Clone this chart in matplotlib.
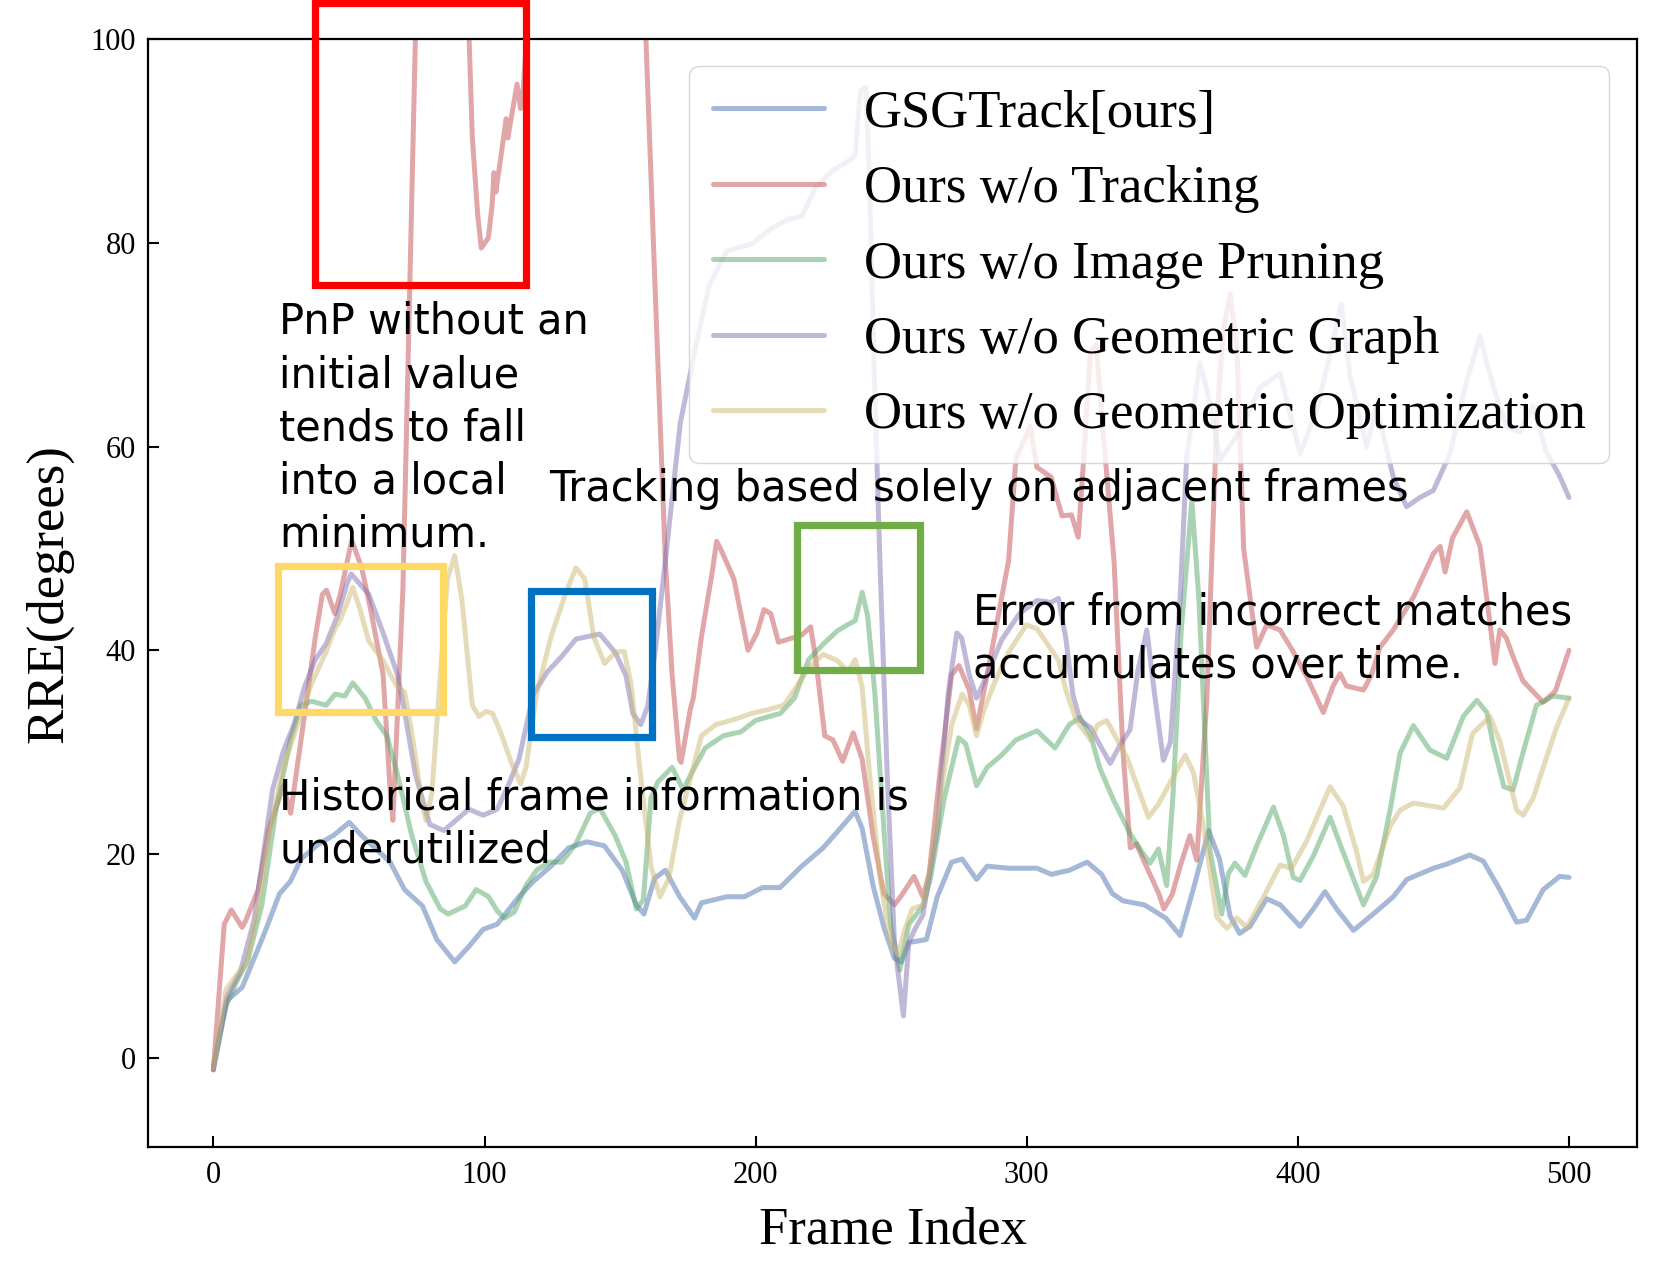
import matplotlib
matplotlib.use('Agg')
import matplotlib.pyplot as plt
import matplotlib.patches as mpatches

# ── data (frame index vs RRE) ──────────────────────────────────────
gsg_x = [0, 5, 10.6, 18.5, 24.4, 28.4, 32.3, 38.9, 44.2, 50.1, 54.7, 65.2, 70.5, 77.1, 82.4,
         89, 94.2, 99.5, 104.7, 112.7, 118, 124.5, 131, 137.7, 144.2, 150.8, 156, 158.8,
         162.7, 166.7, 172, 177.5, 180, 189.3, 195.9, 202.5, 209, 217, 224.9, 230.2, 236.7,
         239.3, 243.3, 247.3, 251.2, 253.8, 256.5, 263, 267, 272.3, 276.2, 281.5, 285.4,
         293.3, 303.8, 309.1, 315.7, 322.3, 327.6, 331.6, 335.5, 343.4, 351.3, 356.6, 361.8,
         367.1, 371.1, 375, 378.5, 382.4, 388.5, 393.5, 400.8, 405.7, 410, 414.3, 420.5,
         427.8, 435.2, 440.2, 450, 454.9, 463.4, 468.4, 474.5, 480.7, 484.4, 490.5, 496.6, 500]
gsg_y = [-1.2, 5.6, 6.9, 12.0, 16.1, 17.3, 19.5, 21.0, 21.8, 23.1, 21.8, 19.2, 16.5, 14.9, 11.6,
         9.4, 10.9, 12.6, 13.1, 15.8, 17.3, 18.8, 20.6, 21.2, 20.8, 18.4, 15.0, 14.1,
         17.6, 18.4, 15.8, 13.7, 15.2, 15.8, 15.8, 16.7, 16.7, 18.8, 20.6, 22.2, 24.2,
         22.5, 16.9, 12.8, 9.75, 9.4, 11.3, 11.6, 15.8, 19.2, 19.5, 17.5, 18.8,
         18.6, 18.6, 18.0, 18.4, 19.2, 18.0, 16.1, 15.4, 15.0, 13.7, 12.0, 16.9,
         22.3, 19.5, 13.9, 12.2, 12.9, 15.6, 15.0, 12.9, 14.6, 16.3, 14.6, 12.5,
         14.1, 15.8, 17.5, 18.6, 19.0, 19.9, 19.3, 16.5, 13.3, 13.5, 16.5, 17.8, 17.7]

notrack_x = [0, 4, 6.6, 10.6, 12, 16.5, 20.5, 25.8, 28.5, 33.7, 37.6, 40.2, 41.7, 44.8, 46.8,
             49.4, 51, 54.7, 58, 62.6, 65.2, 66.2, 69.9, 74.5, 76, 93, 94.2, 95.5, 97.5, 98.8,
             101.4, 102.8, 103.5, 104.2, 108, 108.6, 112, 113.3, 114, 116, 158, 159.4, 163,
             166.7, 169.2, 171.9, 172.5, 175.9, 177, 180, 184, 185.6, 187, 192, 197.2, 200.5,
             203.1, 205.6, 208.4, 211, 217, 220.3, 222.2, 225.5, 228.5, 232.1, 236, 239.3,
             243.3, 247.3, 251.2, 254, 258.4, 261.7, 264, 268, 272.3, 275, 278.8, 281.5, 286.7,
             293.3, 296, 301.3, 303.7, 309, 313, 316.5, 319, 321, 323.5, 325.6, 328, 332.2,
             335.5, 338.2, 340.5, 343.4, 348.7, 350.6, 353.6, 356.6, 360.2, 362.7, 366.4, 370,
             372.5, 375, 377.5, 380, 384.8, 388.5, 393.4, 398, 403.3, 409.4, 413, 415.6,
             417.9, 424.2, 427, 430.3, 435.2, 442.6, 450, 452.5, 454.3, 457, 462.3, 467.2,
             470.9, 472.7, 474.5, 476.9, 479.2, 483, 490.5, 495, 500]
notrack_y = [-1.2, 13.1, 14.5, 12.8, 13.5, 16.5, 22.5, 26.7, 24.0, 33.8, 41.3, 45.5, 45.9, 43.6, 45.5,
             48.8, 50.8, 48.1, 44.0, 37.6, 26.3, 23.3, 46.0, 100.0, 110, 110, 101.0, 90.4, 82.7, 79.5,
             80.5, 83.7, 86.9, 85.0, 92.2, 90.3, 95.6, 93.2, 94.0, 102, 110, 101.0, 75.0,
             48.8, 37.6, 29.3, 29.0, 34.2, 35.3, 41.3, 47.7, 50.7, 50.0, 47.0, 40.0, 41.7,
             44.0, 43.6, 40.8, 41.0, 41.5, 42.3, 39.1, 31.6, 31.2, 29.1, 31.9, 29.3,
             21.8, 16.1, 15.0, 16.0, 17.8, 15.8, 18.0, 28.0, 37.6, 38.5, 36.1, 32.3, 39.4,
             48.8, 58.8, 62.0, 58.0, 57.0, 53.2, 53.3, 51.1, 58.8, 69.3, 70.0, 62.0, 48.8,
             30.0, 20.6, 21.0, 19.2, 16.1, 14.6, 16.0, 18.8, 21.8, 19.4, 35.1, 62.0,
             71.5, 75.0, 70.0, 50.0, 40.3, 42.5, 42.0, 40.0, 37.4, 33.9, 36.5, 37.7,
             36.5, 36.1, 37.5, 40.3, 42.0, 45.2, 49.5, 50.2, 47.7, 51.0, 53.6, 50.2,
             42.6, 38.7, 42.0, 41.2, 39.5, 37.0, 34.9, 36.0, 40.0]

noprune_x = [0, 4.5, 8.6, 12.5, 17.9, 23.1, 28.4, 32.3, 36.2, 41.6, 44.9, 48.5, 51.4, 56, 60, 64,
             67.9, 73.2, 78.4, 83.7, 86.6, 92.9, 96.9, 101.5, 104.7, 107.4, 111, 115.3, 119.2,
             123.9, 128.5, 133.7, 139, 142.5, 148.2, 152.2, 156, 158.6, 161.4, 164, 169.2, 173.3,
             176.1, 181.4, 188, 194.6, 199.9, 205, 209.1, 214.3, 219.6, 224.9, 230.1, 233.8,
             236.7, 239.3, 241.3, 244, 247.3, 249.8, 253.2, 256.5, 261.7, 264.4, 269.6, 274.9,
             277.5, 281.5, 285.4, 290.7, 296, 303.8, 310.4, 315.7, 319.7, 323.6, 327, 332,
             338.1, 343, 345.5, 348.6, 351.6, 354, 357, 360.9, 363.5, 367.6, 371.9,
             374.4, 376.8, 380.5, 384.8, 391, 394.7, 398.3, 400.8, 405.7, 411.9, 415.5, 424.2, 429.1,
             434, 437.7, 442.6, 448.7, 454.9, 461, 466, 469.7, 472, 476, 479.4, 483.1, 488,
             494.2, 500]
noprune_y = [-0.8, 5.0, 7.5, 9.4, 15.0, 24.4, 31.2, 34.6, 35.0, 34.6, 35.7, 35.5, 36.8, 35.3, 33.1, 31.6,
             27.8, 21.8, 17.3, 14.6, 14.1, 14.9, 16.5, 15.8, 14.4, 13.7, 14.3, 16.9, 18.4,
             19.2, 19.2, 21.0, 24.0, 24.5, 21.8, 19.2, 14.6, 15.5, 25.5, 27.1, 28.5, 26.3,
             27.8, 30.4, 31.6, 32.0, 33.1, 33.5, 33.8, 35.3, 39.1, 40.6, 41.9, 42.5,
             42.9, 45.7, 43.4, 35.7, 22.5, 13.1, 8.6, 13.1, 14.9, 17.5, 25.5, 31.4,
             30.8, 26.7, 28.5, 29.7, 31.2, 32.1, 30.4, 32.7, 33.4, 31.6, 28.4, 25.3,
             22.0, 20.0, 19.1, 20.5, 16.9, 26.0, 42.0, 54.7, 45.0, 20.3, 14.1,
             18.1, 19.1, 17.9, 20.8, 24.6, 21.8, 17.7, 17.4, 19.8, 23.6, 21.0, 15.0, 17.8,
             24.3, 29.9, 32.6, 30.2, 29.4, 33.5, 35.1, 33.9, 30.8, 26.6, 26.3, 30.0, 34.6,
             35.5, 35.3]

nograph_x = [0, 5, 10, 15, 21.8, 25.8, 29.7, 33.6, 37.6, 41.5, 45.5, 49.4, 50.8, 57.3, 62.6, 67.9,
             70.5, 74.5, 79.8, 85, 89, 94.2, 99.5, 104.7, 108.7, 112.7, 118, 123.2, 128.5, 133.7,
             139, 142.5, 148.2, 152.2, 154.7, 157.6, 160.2, 163, 166.7, 172.2, 177.5, 182.7, 189.3,
             198.5, 205.1, 211.6, 216.9, 222.2, 228.8, 234, 236.7, 238.6, 240.6, 241.9, 243.9,
             245.9, 248.5, 251.2, 254.5, 256.5, 259.1, 261.7, 267, 271, 274.2, 276, 278.8, 281.5,
             285.4, 290.7, 297.3, 303.8, 309, 311.7, 314.4, 317, 319.7, 323.6, 327.6, 330.8,
             334, 338.1, 341, 344.3, 347, 350.4, 353, 356.6, 359, 363.9, 367, 371.3,
             378.7, 386, 393.4, 400.8, 407, 413.1, 416, 419.2, 425.4, 429, 435.2,
             440.1, 445, 450, 456.1, 462.3, 467.2, 472, 477, 481.9, 486.7, 491.6, 496.6, 500]
nograph_y = [-1.0, 6.0, 8.5, 13.5, 26.3, 30.1, 32.7, 36.4, 39.1, 40.6, 43.2, 46.6, 47.5, 45.5, 41.7, 37.6,
             34.0, 27.8, 22.9, 22.3, 23.2, 24.4, 23.8, 24.4, 26.7, 29.3, 35.7, 37.9, 39.4, 41.1,
             41.4, 41.6, 39.8, 37.5, 33.8, 32.7, 34.5, 40.0, 48.8, 62.3, 69.3, 75.7, 79.2,
             79.9, 81.3, 82.3, 82.6, 85.5, 87.2, 88.0, 88.6, 94.9, 95.3, 86.9, 65.8,
             48.3, 28.0, 11.3, 4.1, 11.3, 12.8, 14.0, 22.5, 35.7, 41.7, 41.2, 37.6, 35.3,
             37.6, 41.0, 43.6, 44.9, 44.7, 45.1, 41.2, 35.7, 33.1, 32.4, 30.4, 28.9,
             30.5, 32.2, 38.0, 42.0, 36.0, 29.2, 31.0, 45.2, 59.0, 68.2, 65.0, 58.7,
             61.6, 65.8, 67.2, 59.3, 63.6, 70.5, 74.0, 67.0, 60.0, 64.0, 57.0,
             54.1, 55.0, 55.7, 59.3, 66.5, 70.8, 66.0, 62.0, 61.4, 64.0, 59.5, 57.1, 55.0]

noopt_x = [0, 4.7, 8.6, 12.5, 16.5, 20.5, 25.8, 31, 36.3, 41.5, 44.8, 46.8, 49.4, 51.4, 54.1, 57.3,
           62.6, 65.3, 67.9, 70.5, 73.2, 77.1, 78.4, 80.6, 83.7, 86.3, 89, 91.6, 95.5, 98, 100.5,
           103, 106, 110, 113.3, 115.3, 119.2, 124.5, 129.8, 133.7, 137, 140.3, 144.3, 148.2,
           151.5, 154, 157.4, 161.4, 164.7, 168, 171.9, 175.9, 180, 185.3, 192, 198.5, 205,
           210.4, 214.3, 219.6, 224.9, 230.1, 234.1, 236.7, 239.3, 241.9, 245.9, 249.8, 252.5,
           255, 257.7, 261.7, 264.4, 268.3, 272.3, 276.2, 278.8, 281.5, 284, 288.1, 293.3, 299.9,
           303.8, 307.7, 311.7, 314.4, 318.3, 323.6, 326.2, 329.5, 336.9, 344.9, 348.6,
           354.1, 358.4, 361.5, 365.2, 370.1, 373.8, 377.5, 381.2, 387.4, 393.4, 397.7,
           403.3, 411.9, 416.7, 421.6, 424.2, 427.8, 434, 437.7, 442.6, 453.7, 459.8,
           464.4, 470.9, 474.6, 480.7, 483.1, 486.8, 490.5, 495.4, 500]
noopt_y = [-1.0, 6.7, 8.1, 9.4, 15.0, 21.8, 28.5, 32.7, 36.8, 39.8, 42.1, 43.0, 44.7, 46.2, 44.0, 40.9,
           39.0, 37.6, 36.4, 35.9, 31.9, 24.8, 23.3, 26.0, 37.6, 47.0, 49.3, 45.1, 34.6, 33.5, 34.0,
           33.8, 31.9, 28.9, 26.9, 28.5, 35.7, 41.3, 45.5, 48.1, 47.0, 41.3, 38.7, 39.8,
           39.9, 36.8, 28.1, 18.8, 15.8, 17.6, 23.3, 27.4, 31.6, 32.7, 33.2, 33.8, 34.2,
           34.6, 36.1, 38.3, 39.6, 39.0, 37.9, 39.1, 36.4, 28.2, 17.6, 11.3, 10.1,
           12.5, 14.6, 15.0, 18.8, 26.0, 32.7, 35.7, 34.6, 31.6, 34.0, 36.8, 39.8, 42.5,
           42.1, 40.6, 39.0, 36.1, 33.1, 31.2, 32.7, 33.1, 29.5, 23.6, 24.9,
           27.6, 29.7, 28.0, 22.7, 13.8, 12.7, 13.7, 12.8, 15.8, 18.9, 18.6,
           21.3, 26.6, 24.7, 20.3, 17.3, 18.0, 22.7, 24.3, 25.0, 24.5, 26.5,
           31.8, 33.5, 31.0, 24.3, 23.8, 25.5, 28.5, 32.4, 35.3]

series = [
    ('GSGTrack[ours]',                     gsg_x,      gsg_y,      '#4C72B0'),
    ('Ours w/o Tracking',                  notrack_x,  notrack_y,  '#C44E52'),
    ('Ours w/o Image Pruning',             noprune_x,  noprune_y,  '#55A868'),
    ('Ours w/o Geometric Graph',           nograph_x,  nograph_y,  '#8172B2'),
    ('Ours w/o Geometric Optimization',    noopt_x,    noopt_y,    '#CCB974'),
]

SERIF = ['Liberation Serif', 'DejaVu Serif']
HAND = ['DejaVu Sans']

fig = plt.figure(figsize=(16.61, 12.76), dpi=100)
ax = fig.add_axes([0.0893, 0.1009, 0.8961, 0.8683])

for name, xs, ys, col in series:
    ax.plot(xs, ys, color=col, alpha=0.5, lw=3.6, label=name,
            solid_joinstyle='round', solid_capstyle='round')

ax.set_xlim(-24, 525)
ax.set_ylim(-8.8, 100)
ax.set_xticks([0, 100, 200, 300, 400, 500])
ax.set_yticks([0, 20, 40, 60, 80, 100])
ax.tick_params(direction='in', length=8, width=1.5, labelsize=22)
ax.tick_params(axis='x', pad=10)
ax.tick_params(axis='y', pad=9)
for lbl in ax.get_xticklabels() + ax.get_yticklabels():
    lbl.set_family(SERIF)
for s in ax.spines.values():
    s.set_linewidth(1.6)

ax.set_xlabel('Frame Index', fontsize=38, family=SERIF, labelpad=12)
ax.set_ylabel('RRE(degrees)', fontsize=38, family=SERIF, labelpad=12)

leg = ax.legend(loc='upper right', bbox_to_anchor=(0.9815, 0.976), borderaxespad=0,
                prop={'family': SERIF, 'size': 38}, handlelength=2.1, handletextpad=0.75,
                labelspacing=0.52, borderpad=0.45, framealpha=0.8)
for h in leg.get_lines():
    h.set_linewidth(3.6)

# ── highlight boxes ─────────────────────────────────────────
boxes = [
    ((37.6, 75.9), 77.8, 27.7, '#FF0000'),
    ((23.8, 33.9), 61.0, 14.4, '#FFD966'),
    ((117.0, 31.5), 44.8, 14.3, '#0070C0'),
    ((215.2, 38.1), 45.4, 14.2, '#70AD47'),
]
for (bx, by), bw, bh, col in boxes:
    ax.add_patch(mpatches.Rectangle((bx, by), bw, bh, fill=False, edgecolor=col,
                                    lw=5.2, clip_on=False, zorder=5))

# ── annotations ─────────────────────────────────────────────
tk = dict(fontsize=29.9, family=HAND, color='black', zorder=6)
ax.text(24.2, 61.8, 'PnP without an\ninitial value\ntends to fall\ninto a local\nminimum.',
        ha='left', va='center', linespacing=1.34, **tk)
ax.text(123.9, 55.8, 'Tracking based solely on adjacent frames', ha='left', va='center', **tk)
ax.text(280.3, 41.1, 'Error from incorrect matches\naccumulates over time.',
        ha='left', va='center', linespacing=1.34, **tk)
ax.text(24.2, 22.95, 'Historical frame information is\nunderutilized',
        ha='left', va='center', linespacing=1.34, **tk)

fig.savefig('out.png', dpi=100)
